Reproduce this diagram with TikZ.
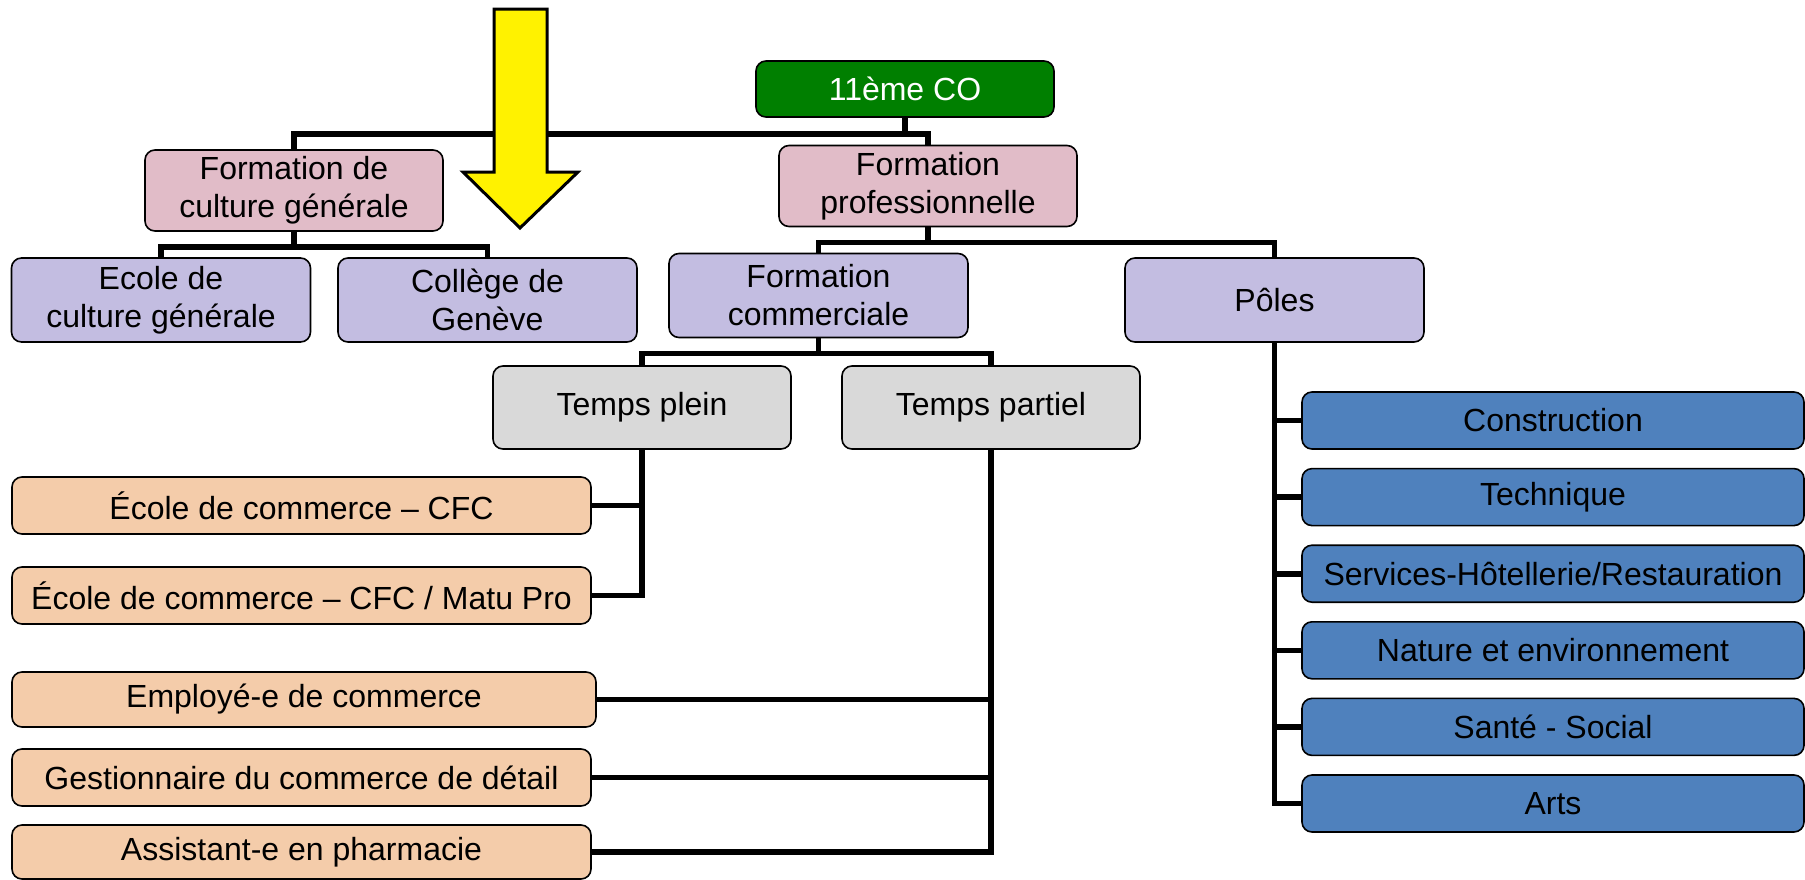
\documentclass[tikz,border=0pt]{standalone}
\usepackage{fontspec}
\setmainfont{Liberation Sans}
\usepackage{xcolor}
\usepackage{tikz}
\usetikzlibrary{positioning}

\definecolor{coGreen}{HTML}{007F00}
\definecolor{pinkBox}{HTML}{E1BCC8}
\definecolor{lilacBox}{HTML}{C3BDE1}
\definecolor{greyBox}{HTML}{D9D9D9}
\definecolor{peachBox}{HTML}{F4CCAA}
\definecolor{poleBlue}{HTML}{4F81BD}

\begin{document}
\begin{tikzpicture}[
  x=0.5pt, y=-0.5pt,
  box/.style={draw, line width=0.8pt, rounded corners=5pt, align=center,
    inner sep=0pt, font=\fontsize{16}{19}\selectfont},
  boxsize/.style 2 args={minimum width=#1*0.5pt, minimum height=#2*0.5pt},
  top/.style={box, fill=coGreen, text=white, boxsize={298}{56}},
  branch/.style={box, fill=pinkBox, boxsize={298}{81}},
  school/.style={box, fill=lilacBox, boxsize={299}{84}},
  rhythm/.style={box, fill=greyBox, boxsize={298}{83}},
  trade/.style={box, fill=peachBox, boxsize={579}{57}},
  pole/.style={box, fill=poleBlue, boxsize={502}{57}},
  link/.style={line width=2.8pt},
  node distance=9pt
]
\useasboundingbox (0,0) rectangle (1805,879);

\node[top] (co) at (905,89) {11ème CO};
\node[branch] (fcg) at (294,190.5) {Formation de\\culture générale};
\node[branch] (fp) at (928,186) {Formation\\professionnelle};
\node[school] (ecg) at (161,300) {Ecole de\\culture générale};
\node[school] (cdg) at (487.5,300) {Collège de\\Genève};
\node[school] (fc) at (818.5,295.5) {Formation\\commerciale};
\node[school] (pol) at (1274.5,300) {Pôles};
\node[rhythm] (tp) at (642,407.5) {Temps plein};
\node[rhythm] (tpa) at (991,407.5) {Temps partiel};

\node[trade] (ecc) at (301.5,505.5) {École de commerce – CFC};
\node[trade] (ecm) at (301.5,595.5) {École de commerce – CFC / Matu Pro};
\node[trade, boxsize={584}{55}] (emp) at (304,699.5) {Employé-e de commerce};
\node[trade] (ges) at (301.5,777.5) {Gestionnaire du commerce de détail};
\node[trade, boxsize={579}{54}] (asp) at (301.5,852) {Assistant-e en pharmacie};

\node[pole] (con) at (1553,420.5) {Construction};
\node[pole, below=of con] (tec) {Technique};
\node[pole, below=of tec] (ser) {Services-Hôtellerie/Restauration};
\node[pole, below=of ser] (nat) {Nature et environnement};
\node[pole, below=of nat] (san) {Santé - Social};
\node[pole, below=of san] (art) {Arts};

\draw[link] (co.south) -- ++(0,16) -| (fcg.north);
\draw[link] (co.south) -- ++(0,16) -| (fp.north);
\draw[link] (fcg.south) -- ++(0,15) -| (ecg.north);
\draw[link] (fcg.south) -- ++(0,15) -| (cdg.north);
\draw[link] (fp.south) -- ++(0,15) -| (fc.north);
\draw[link] (fp.south) -- ++(0,15) -| (pol.north);
\draw[link] (fc.south) -- ++(0,15) -| (tp.north);
\draw[link] (fc.south) -- ++(0,15) -| (tpa.north);
\foreach \t in {ecc,ecm}
  \draw[link] (tp.south) |- (\t.east);
\foreach \t in {emp,ges,asp}
  \draw[link] (tpa.south) |- (\t.east);
\foreach \t in {con,tec,ser,nat,san,art}
  \draw[link] (pol.south) |- (\t.west);

\draw[fill=yellow, line width=1.5pt, line join=miter]
  (494,9) -- (547,9) -- (547,172) -- (578,172) -- (520,228)
  -- (463,172) -- (494,172) -- cycle;
\end{tikzpicture}
\end{document}
